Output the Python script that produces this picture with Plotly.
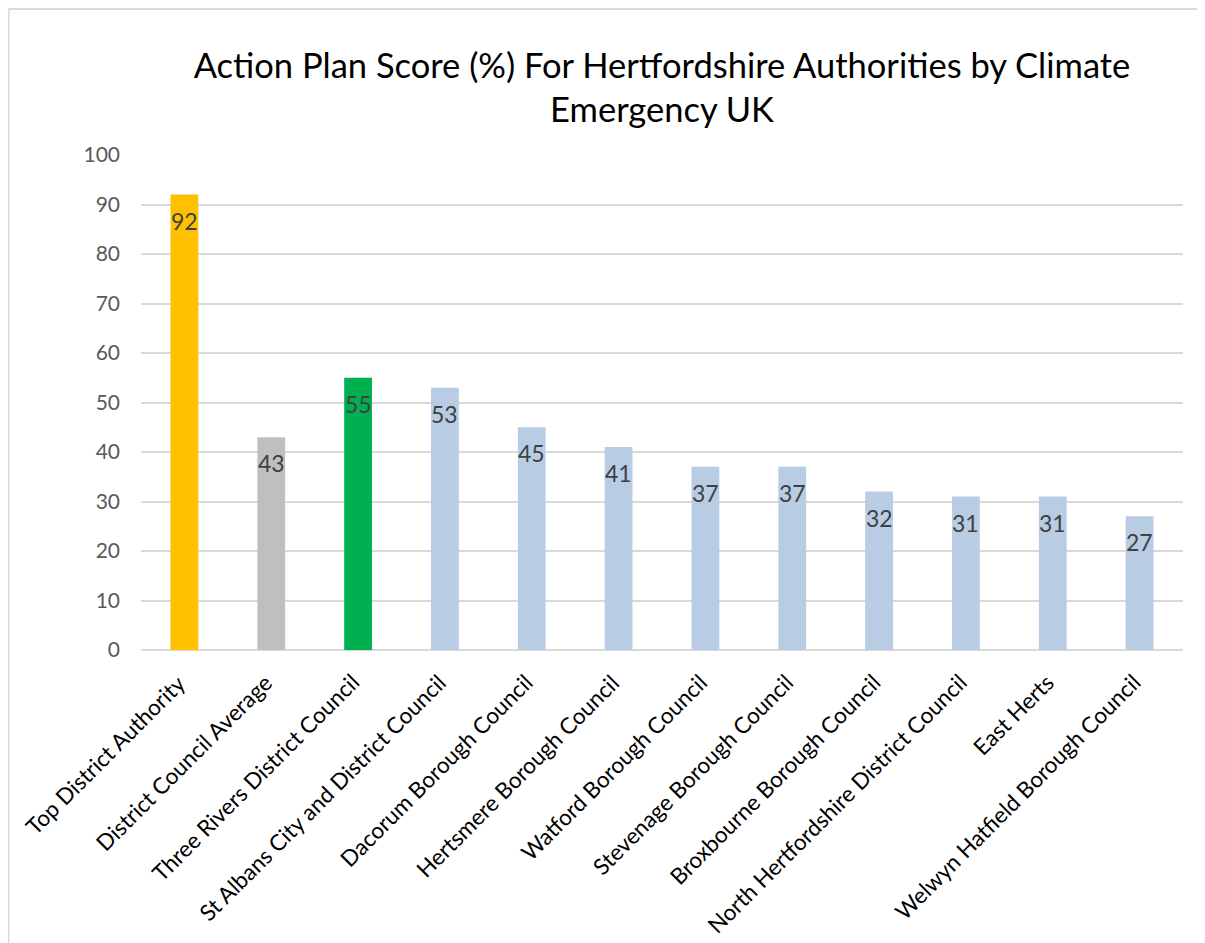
import plotly.graph_objects as go

categories = [
    "Top District Authority",
    "District Council Average",
    "Three Rivers District Council",
    "St Albans City and District Council",
    "Dacorum Borough Council",
    "Hertsmere Borough Council",
    "Watford Borough Council",
    "Stevenage Borough Council",
    "Broxbourne Borough Council",
    "North Hertfordshire District Council",
    "East Herts",
    "Welwyn Hatfield Borough Council",
]
scores = [92, 43, 55, 53, 45, 41, 37, 37, 32, 31, 31, 27]
bar_colors = ["#FFC000", "#BFBFBF", "#00B050"] + ["#B8CCE4"] * 9
y_ticks = [0, 10, 20, 30, 40, 50, 60, 70, 80, 90, 100]

FONT = "Lato"

fig = go.Figure()
fig.add_trace(go.Bar(
    x=categories, y=scores, marker=dict(color=bar_colors, line=dict(width=0)),
    hoverinfo="x+y",
))

# data labels, inside the top of each bar
for c, v in zip(categories, scores):
    fig.add_annotation(x=c, y=v, text=str(v), showarrow=False, yshift=-26,
                       xanchor="center", yanchor="middle",
                       font=dict(family=FONT, size=23, color="#404040"))

# rotated category labels, ending under each bar
for c in categories:
    fig.add_annotation(x=c, y=0, text=c, showarrow=False, textangle=-45,
                       xanchor="right", yanchor="top", xshift=9, yshift=-16,
                       font=dict(family=FONT, size=22.5, color="#000000"))

W, H = 1197, 935
L, R, T, B = 133, 22, 147, 293
pw, ph = W - L - R, H - T - B
bx = (0.5 - L) / pw
by = (H - B - 1) / ph
line_style = dict(color="#D9D9D9", width=2)
fig.add_shape(type="line", xref="paper", yref="paper", x0=bx, y0=by, x1=(W + 10 - L) / pw, y1=by, line=line_style)
fig.add_shape(type="line", xref="paper", yref="paper", x0=bx, y0=by, x1=bx, y1=-(B + 10) / ph, line=line_style)

fig.update_layout(
    width=W, height=H,
    margin=dict(l=L, r=R, t=T, b=B),
    paper_bgcolor="white", plot_bgcolor="white",
    bargap=0.68,
    showlegend=False,
    title=dict(
        text="Action Plan Score (%) For Hertfordshire Authorities by Climate<br>Emergency UK",
        x=0.5, xref="paper", xanchor="center",
        y=(H - 69.5) / H, yanchor="middle", yref="container",
        font=dict(family=FONT, size=34.5, color="#000000"),
    ),
    font=dict(family=FONT),
)
fig.update_yaxes(
    range=[0, 100], tickvals=y_ticks, showgrid=True, gridcolor="#D9D9D9", gridwidth=1.5,
    zeroline=True, zerolinecolor="#D9D9D9", zerolinewidth=1.5,
    tickfont=dict(family=FONT, size=21, color="#595959"),
    ticklabelstandoff=20, showline=False, fixedrange=True,
)
fig.update_xaxes(range=[-0.5, len(categories) - 0.5], autorange=False,
                 showticklabels=False, showline=False, fixedrange=True)

fig.write_html("out.html")
